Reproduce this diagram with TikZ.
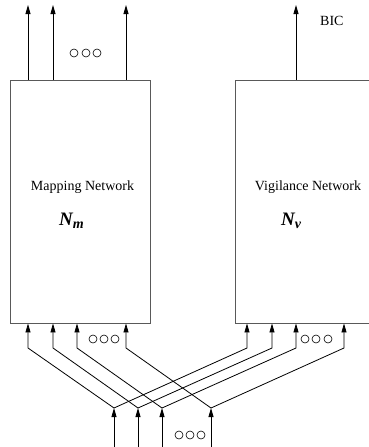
\documentclass[tikz,border=0pt]{standalone}
\usepackage{fontspec}
\setmainfont{Liberation Serif}
\usetikzlibrary{arrows.meta}
\tikzset{
  x=1pt, y=-1pt,
  box/.style={draw=black!65, line width=0.9pt, minimum width=140pt, minimum height=243pt, inner sep=0pt},
  arr/.style={line width=0.8pt, -{Triangle[length=9pt,width=5pt]}},
  wire/.style={line width=0.8pt},
  dotc/.style={draw, line width=0.6pt, circle, minimum size=8pt, inner sep=0pt},
  lbl/.style={font=\fontsize{14}{16}\selectfont, inner sep=0pt},
  sym/.style={font=\fontsize{19}{21}\selectfont\bfseries\itshape, inner sep=0pt}
}
\begin{document}
\begin{tikzpicture}
\useasboundingbox (0,0) rectangle (369,447);
\clip (0,0) rectangle (369,447);
% boxes
\node[box] (map) at (80,201.5) {};
\node[box] (vig) at (305,201.5) {};
% labels
\node[lbl, anchor=base] (maplbl) at (82.5,190.5) {Mapping Network};
\node[sym, anchor=base west] (nm) at (59,225) {N\raisebox{-3pt}{\fontsize{14}{16}\selectfont m}};
\node[lbl, anchor=base] (viglbl) at (308,190.5) {Vigilance Network};
\node[sym, anchor=base west] (nv) at (281,225) {N\raisebox{-3pt}{\fontsize{14}{16}\selectfont v}};
\node[lbl, anchor=base west] (bic) at (320,25) {BIC};
% output coordinates
\coordinate (o1) at (28,5);
\coordinate (o2) at (53,5);
\coordinate (o3) at (126,5);
\coordinate (o4) at (296,5);
\draw[arr] (map.north -| o1) -- (o1);
\draw[arr] (map.north -| o2) -- (o2);
\draw[arr] (map.north -| o3) -- (o3);
\draw[arr] (vig.north -| o4) -- (o4);
% bend points
\coordinate (l1) at (28,348);
\coordinate (l2) at (53,348);
\coordinate (l3) at (77,348);
\coordinate (l4) at (126,348);
\coordinate (r1) at (247,348);
\coordinate (r2) at (272,348);
\coordinate (r3) at (296,348);
\coordinate (r4) at (344,348);
% junctions and inputs
\coordinate (j1) at (114,408);
\coordinate (j2) at (138,408);
\coordinate (j3) at (162,408);
\coordinate (j4) at (211,408);
\coordinate (b1) at (114,447);
\coordinate (b2) at (138,447);
\coordinate (b3) at (162,447);
\coordinate (b4) at (211,447);
\foreach \i in {1,2,3,4}{
  \draw[arr] (b\i) -- (j\i);
  \draw[arr] (j\i) -- (l\i) -- (map.south -| l\i);
  \draw[arr] (j\i) -- (r\i) -- (vig.south -| r\i);
}
% ellipsis circles
\foreach \cx/\cy/\n in {74/53/a,86/53/b,97/53/c, 93/339/d,104/339/e,115/339/f, 305/339/g,316/339/h,328/339/i, 179/435/j,190/435/k,201/435/l}{
  \node[dotc] (c\n) at (\cx,\cy) {};
}
\end{tikzpicture}
\end{document}
